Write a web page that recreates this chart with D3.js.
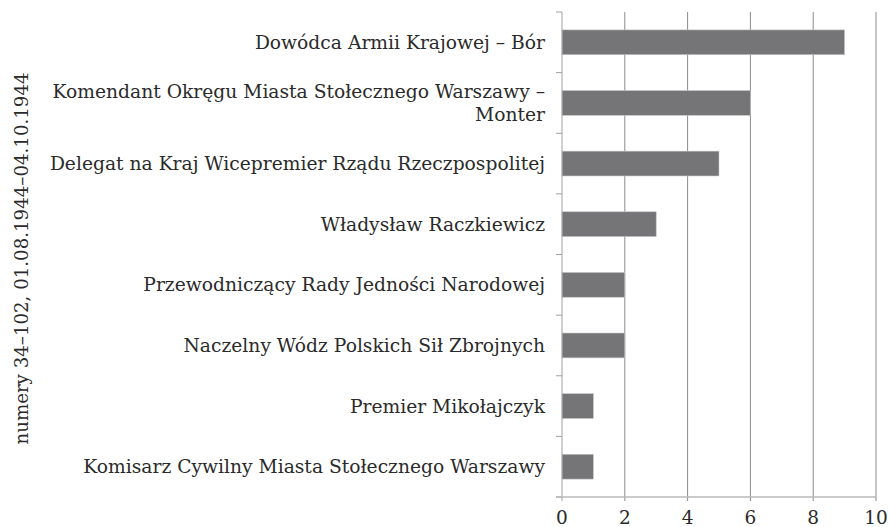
<!DOCTYPE html>
<html>
<head>
<meta charset="utf-8">
<style>
    body { margin: 0; background: #fff; }
    text { font-family: "DejaVu Serif", serif; fill: #2a2a2a; }
</style>
</head>
<body>
<script src="https://d3js.org/d3.v7.min.js"></script>
<script>
    const width = 890;
    const height = 527;

    // data
    const labels = [
        ["Dowódca Armii Krajowej – Bór"],
        ["Komendant Okręgu Miasta Stołecznego Warszawy –", "Monter"],
        ["Delegat na Kraj Wicepremier Rządu Rzeczpospolitej"],
        ["Władysław Raczkiewicz"],
        ["Przewodniczący Rady Jedności Narodowej"],
        ["Naczelny Wódz Polskich Sił Zbrojnych"],
        ["Premier Mikołajczyk"],
        ["Komisarz Cywilny Miasta Stołecznego Warszawy"]
    ];
    const values = [9, 6, 5, 3, 2, 2, 1, 1];
    const xTicks = [0, 2, 4, 6, 8, 10];
    const axisTitle = "numery 34–102, 01.08.1944–04.10.1944";

    const pLeft = 562, pRight = 876, pTop = 12, pBottom = 497;

    const svg = d3.select("body").append("svg")
        .attr("width", width).attr("height", height);

    const x = d3.scaleLinear().domain([0, 10]).range([pLeft, pRight]);
    const y = d3.scaleBand().domain(d3.range(values.length))
        .range([pTop, pBottom]).paddingInner(0.59).paddingOuter(0.295);
    const yb = d3.scaleBand().domain(d3.range(values.length)).range([pTop, pBottom]);

    // grid
    svg.append("g").selectAll("line").data(xTicks.slice(1)).enter().append("line")
        .attr("x1", d => x(d)).attr("x2", d => x(d))
        .attr("y1", pTop).attr("y2", pBottom + 4)
        .attr("stroke", "#8a8a8a").attr("stroke-width", 1);

    // bars
    svg.append("g").selectAll("rect").data(values).enter().append("rect")
        .attr("x", x(0))
        .attr("y", (d, i) => y(i))
        .attr("width", d => x(d) - x(0))
        .attr("height", y.bandwidth())
        .attr("fill", "#757578")
        .attr("stroke", "#c8c8c8").attr("stroke-width", 0.6);

    // y axis line + ticks
    svg.append("line").attr("x1", pLeft).attr("x2", pLeft)
        .attr("y1", pTop).attr("y2", pBottom + 4)
        .attr("stroke", "#a0a0a0");
    svg.append("g").selectAll("line").data(d3.range(values.length + 1)).enter().append("line")
        .attr("x1", pLeft - 6).attr("x2", pLeft)
        .attr("y1", d => pTop + d * yb.step()).attr("y2", d => pTop + d * yb.step())
        .attr("stroke", "#a0a0a0");

    // x axis line
    svg.append("line").attr("x1", pLeft - 6).attr("x2", pRight)
        .attr("y1", pBottom).attr("y2", pBottom)
        .attr("stroke", "#b8b8b8").attr("stroke-width", 1.5);

    // x tick labels
    svg.append("g").selectAll("text").data(xTicks).enter().append("text")
        .attr("x", d => x(d)).attr("y", 524)
        .attr("text-anchor", "middle")
        .style("font-size", "18.5px")
        .text(d => d);

    // category labels
    const lg = svg.append("g").selectAll("text").data(labels).enter().append("text")
        .attr("text-anchor", "end")
        .style("font-size", "18.7px")
        .attr("transform", (d, i) => `translate(${pLeft - 17},${yb(i) + yb.bandwidth() / 2})`);
    lg.selectAll("tspan").data(d => d.map((t, k) => ({ t, k, n: d.length }))).enter().append("tspan")
        .attr("x", 0)
        .attr("y", d => (d.k - (d.n - 1) / 2) * 23)
        .attr("dy", "0.35em")
        .text(d => d.t);

    // axis title
    svg.append("text")
        .attr("transform", `translate(28,${(pTop + pBottom) / 2 + 4}) rotate(-90)`)
        .attr("text-anchor", "middle")
        .style("font-size", "18.2px")
        .text(axisTitle);
</script>
</body>
</html>
